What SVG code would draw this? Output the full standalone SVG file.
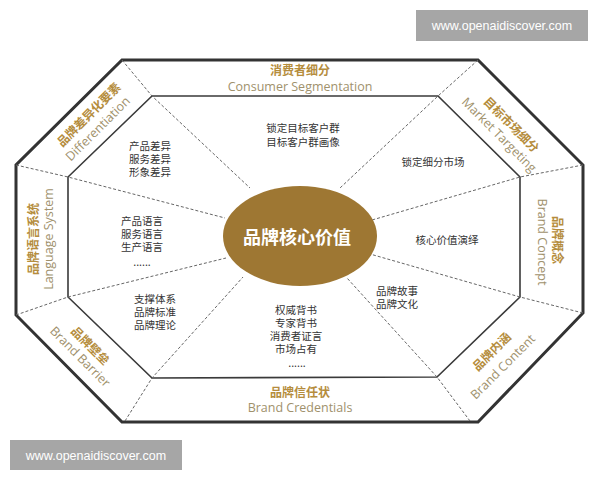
<svg xmlns="http://www.w3.org/2000/svg" width="600" height="480" viewBox="0 0 600 480">
<defs>
<style>
.outer{fill:none;stroke:#333;stroke-width:3;stroke-linejoin:miter}
.inner{fill:none;stroke:#3a3a3a;stroke-width:1.6}
.dash{fill:none;stroke:#666;stroke-width:1;stroke-dasharray:3,2}
.cn{font-family:"Noto Sans CJK SC",sans-serif;font-size:12px;font-weight:bold;fill:#b58d3d;text-anchor:middle}
.en{font-family:"Open Sans","Noto Sans",sans-serif;font-size:12.5px;fill:#a0916c;text-anchor:middle}
.body{font-family:"Noto Sans CJK SC",sans-serif;font-size:10.5px;fill:#333;text-anchor:middle}
.wm{font-family:"Liberation Sans",Arial,sans-serif;font-size:12.5px;fill:#fff;text-anchor:middle}
</style>
</defs>
<rect width="600" height="480" fill="#fff"/>
<g id="watermarks">
<rect x="416" y="10" width="172" height="31" fill="#a6a6a6"/>
<text class="wm" x="502" y="30">www.openaidiscover.com</text>
<rect x="10" y="440" width="172" height="30" fill="#a6a6a6"/>
<text class="wm" x="96" y="460">www.openaidiscover.com</text>
</g>
<g id="frame">
<polygon class="outer" points="122,60 478,60 583,165 583,313 478,422 122,422 16,315 16,165"/>
<polygon class="inner" points="152,96 438,96 520,177 520,297 437,377 152,378 68,297 68,177"/>
</g>
<g id="connectors">
<polyline class="dash" points="122,60 152,96 250,188"/>
<polyline class="dash" points="478,60 438,96 340,188"/>
<polyline class="dash" points="583,165 520,177 372,220"/>
<polyline class="dash" points="583,313 520,297 370,254"/>
<polyline class="dash" points="470,421 437,377 347,278"/>
<polyline class="dash" points="125,421 152,378 243,277"/>
<polyline class="dash" points="16,315 68,297 226,258"/>
<polyline class="dash" points="16,165 68,177 225,218"/>
</g>
<g id="core">
<ellipse cx="300" cy="236" rx="77" ry="50" fill="#9e7733"/>
<text x="297" y="244" font-family="Noto Sans CJK SC,sans-serif" font-size="18" font-weight="bold" fill="#fff" text-anchor="middle">品牌核心价值</text>
</g>
<g id="consumer-segmentation">
<text class="cn" x="300" y="75">消费者细分</text>
<text class="en" x="300" y="91">Consumer Segmentation</text>
<text class="body" x="303" y="132"><tspan x="303">锁定目标客户群</tspan><tspan x="303" dy="13.5">目标客户群画像</tspan></text>
</g>
<g id="market-targeting">
<text class="cn" transform="translate(511,125) rotate(45)" y="4">目标市场细分</text>
<text class="en" transform="translate(499,135) rotate(45)" y="4">Market Targeting</text>
<text class="body" x="433" y="166">锁定细分市场</text>
</g>
<g id="brand-concept">
<text class="cn" transform="translate(557,240) rotate(90)" y="4">品牌概念</text>
<text class="en" transform="translate(542,242) rotate(90)" y="4">Brand Concept</text>
<text class="body" x="447" y="244">核心价值演绎</text>
</g>
<g id="brand-content">
<text class="cn" transform="translate(492,352) rotate(-45)" y="4">品牌内涵</text>
<text class="en" transform="translate(503,367) rotate(-45)" y="4">Brand Content</text>
<text class="body" x="397" y="295" text-anchor="start"><tspan x="397">品牌故事</tspan><tspan x="397" dy="13">品牌文化</tspan></text>
</g>
<g id="brand-credentials">
<text class="cn" x="300" y="397">品牌信任状</text>
<text class="en" x="300" y="412">Brand Credentials</text>
<text class="body" x="296" y="314"><tspan x="296">权威背书</tspan><tspan x="296" dy="13">专家背书</tspan><tspan x="296" dy="13">消费者证言</tspan><tspan x="296" dy="13">市场占有</tspan><tspan x="297" dy="14">......</tspan></text>
</g>
<g id="brand-barrier">
<text class="cn" transform="translate(90,346) rotate(45)" y="4">品牌壁垒</text>
<text class="en" transform="translate(80,357) rotate(45)" y="4">Brand Barrier</text>
<text class="body" x="155" y="303"><tspan x="155">支撑体系</tspan><tspan x="155" dy="13">品牌标准</tspan><tspan x="155" dy="13">品牌理论</tspan></text>
</g>
<g id="language-system">
<text class="cn" transform="translate(34,239) rotate(-90)" y="4">品牌语言系统</text>
<text class="en" transform="translate(49,239) rotate(-90)" y="4">Language System</text>
<text class="body" x="142" y="225"><tspan x="142">产品语言</tspan><tspan x="142" dy="13">服务语言</tspan><tspan x="142" dy="13">生产语言</tspan><tspan x="142" dy="15">......</tspan></text>
</g>
<g id="differentiation">
<text class="cn" transform="translate(89,115) rotate(-45)" y="4">品牌差异化要素</text>
<text class="en" transform="translate(98,129) rotate(-45)" y="4">Differentiation</text>
<text class="body" x="150" y="150"><tspan x="150">产品差异</tspan><tspan x="150" dy="13">服务差异</tspan><tspan x="150" dy="13">形象差异</tspan></text>
</g>
</svg>
